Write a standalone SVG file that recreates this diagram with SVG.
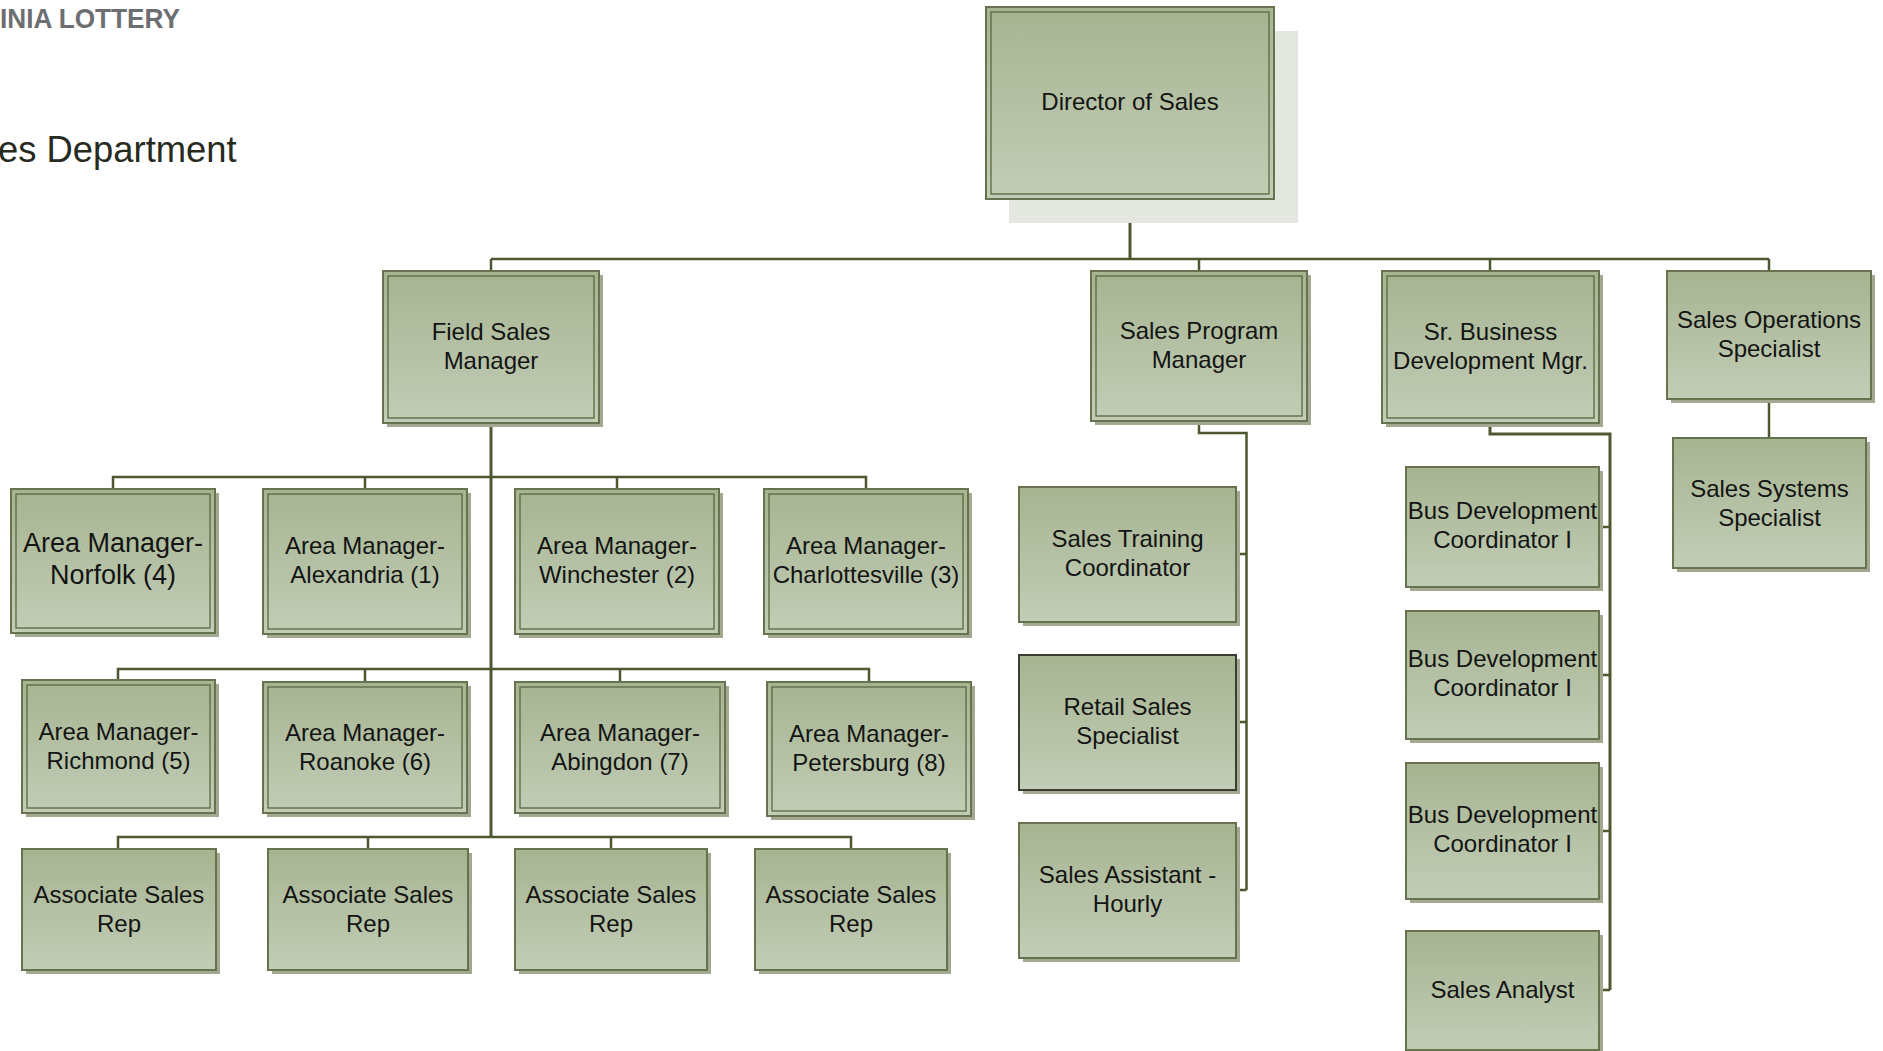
<svg xmlns="http://www.w3.org/2000/svg" width="1883" height="1051" viewBox="0 0 1883 1051">
  <defs>
    <linearGradient id="g" x1="0" y1="0" x2="0" y2="1">
      <stop offset="0" stop-color="#a6b491"/>
      <stop offset="1" stop-color="#c2cdb6"/>
    </linearGradient>
    <style>
      .box{fill:url(#g);stroke:#66734e;stroke-width:2}
      .dark{stroke:#3b3d33}
      .inner{fill:none;stroke:#5b6843;stroke-width:1.3}
      .sh{fill:#a3a991}
      .t{font-family:"Liberation Sans",Arial,sans-serif;font-size:24px;fill:#141414;text-anchor:middle}
      .big{font-size:27px}
      .c{fill:none;stroke:#4d5831;stroke-width:2.5}
      .cw{fill:none;stroke:#4d5831;stroke-width:3}
    </style>
  </defs>
  <rect width="1883" height="1051" fill="#ffffff"/>

  <g id="header">
    <text x="0" y="28" font-family="'Liberation Sans',Arial,sans-serif" font-size="28" font-weight="600" fill="#6d6e71" textLength="180" lengthAdjust="spacingAndGlyphs">INIA LOTTERY</text>
    <text x="-2" y="162" font-family="'Liberation Sans',Arial,sans-serif" font-size="36.4" fill="#272a1e">es Department</text>
  </g>

  <g id="connectors">
    <path class="cw" d="M1130,199 V259"/>
    <path class="c" d="M491,259 H1769"/>
    <path class="c" d="M491,259 V271 M1199,259 V271 M1490,259 V271 M1769,259 V271"/>
    <path class="cw" d="M491,423 V837"/>
    <path class="c" d="M113,489 V477 H866 V489 M365,477 V489 M617,477 V489"/>
    <path class="c" d="M118,681 V669 H869 V681 M365,669 V681 M620,669 V681"/>
    <path class="c" d="M118,849 V837 H851 V849 M368,837 V849 M611,837 V849"/>
    <path class="c" d="M1199,421 V433 H1246.5 V890 M1236,554 H1246.5 M1236,722 H1246.5 M1236,890 H1246.5"/>
    <path class="cw" d="M1490,423 V434 H1610 V990"/>
    <path class="c" d="M1599,527 H1610 M1599,675 H1610 M1599,831 H1610 M1599,990 H1610"/>
    <path class="c" d="M1769,399 V438"/>
  </g>

  <g id="director">
    <rect x="1009" y="31" width="289" height="192" fill="#e4e7df"/>
    <rect class="box" x="986" y="7" width="288" height="192"/>
    <rect class="inner" x="991" y="12" width="278" height="182"/>
    <text class="t" x="1130" y="110">Director of Sales</text>
  </g>

  <g id="field-sales-manager">
    <rect class="sh" x="387" y="275" width="216" height="152"/>
    <rect class="box" x="383" y="271" width="216" height="152"/>
    <rect class="inner" x="388" y="276" width="206" height="142"/>
    <text class="t" x="491" y="340">Field Sales<tspan x="491" dy="29">Manager</tspan></text>
  </g>

  <g id="sales-program-manager">
    <rect class="sh" x="1095" y="275" width="216" height="150"/>
    <rect class="box" x="1091" y="271" width="216" height="150"/>
    <rect class="inner" x="1096" y="276" width="206" height="140"/>
    <text class="t" x="1199" y="339">Sales Program<tspan x="1199" dy="29">Manager</tspan></text>
  </g>

  <g id="sr-business-development-mgr">
    <rect class="sh" x="1386" y="275" width="217" height="152"/>
    <rect class="box" x="1382" y="271" width="217" height="152"/>
    <rect class="inner" x="1387" y="276" width="207" height="142"/>
    <text class="t" x="1490.5" y="340">Sr. Business<tspan x="1490.5" dy="29">Development Mgr.</tspan></text>
  </g>

  <g id="sales-operations-specialist">
    <rect class="sh" x="1671" y="275" width="204" height="128"/>
    <rect class="box" x="1667" y="271" width="204" height="128"/>
    <text class="t" x="1769" y="328">Sales Operations<tspan x="1769" dy="29">Specialist</tspan></text>
  </g>

  <g id="sales-systems-specialist">
    <rect class="sh" x="1677" y="442" width="193" height="130"/>
    <rect class="box" x="1673" y="438" width="193" height="130"/>
    <text class="t" x="1769.5" y="497">Sales Systems<tspan x="1769.5" dy="29">Specialist</tspan></text>
  </g>

  <g id="am-norfolk">
    <rect class="sh" x="15" y="493" width="204" height="144"/>
    <rect class="box" x="11" y="489" width="204" height="144"/>
    <rect class="inner" x="16" y="494" width="194" height="134"/>
    <text class="t big" x="113" y="552">Area Manager-<tspan x="113" dy="32">Norfolk (4)</tspan></text>
  </g>
  <g id="am-alexandria">
    <rect class="sh" x="267" y="493" width="204" height="145"/>
    <rect class="box" x="263" y="489" width="204" height="145"/>
    <rect class="inner" x="268" y="494" width="194" height="135"/>
    <text class="t" x="365" y="554">Area Manager-<tspan x="365" dy="29">Alexandria (1)</tspan></text>
  </g>
  <g id="am-winchester">
    <rect class="sh" x="519" y="493" width="204" height="145"/>
    <rect class="box" x="515" y="489" width="204" height="145"/>
    <rect class="inner" x="520" y="494" width="194" height="135"/>
    <text class="t" x="617" y="554">Area Manager-<tspan x="617" dy="29">Winchester (2)</tspan></text>
  </g>
  <g id="am-charlottesville">
    <rect class="sh" x="768" y="493" width="204" height="145"/>
    <rect class="box" x="764" y="489" width="204" height="145"/>
    <rect class="inner" x="769" y="494" width="194" height="135"/>
    <text class="t" x="866" y="554">Area Manager-<tspan x="866" dy="29">Charlottesville (3)</tspan></text>
  </g>

  <g id="am-richmond">
    <rect class="sh" x="26" y="684" width="193" height="133"/>
    <rect class="box" x="22" y="680" width="193" height="133"/>
    <rect class="inner" x="27" y="685" width="183" height="123"/>
    <text class="t" x="118.5" y="740">Area Manager-<tspan x="118.5" dy="29">Richmond (5)</tspan></text>
  </g>
  <g id="am-roanoke">
    <rect class="sh" x="267" y="686" width="204" height="131"/>
    <rect class="box" x="263" y="682" width="204" height="131"/>
    <rect class="inner" x="268" y="687" width="194" height="121"/>
    <text class="t" x="365" y="741">Area Manager-<tspan x="365" dy="29">Roanoke (6)</tspan></text>
  </g>
  <g id="am-abingdon">
    <rect class="sh" x="519" y="686" width="210" height="131"/>
    <rect class="box" x="515" y="682" width="210" height="131"/>
    <rect class="inner" x="520" y="687" width="200" height="121"/>
    <text class="t" x="620" y="741">Area Manager-<tspan x="620" dy="29">Abingdon (7)</tspan></text>
  </g>
  <g id="am-petersburg">
    <rect class="sh" x="771" y="686" width="204" height="134"/>
    <rect class="box" x="767" y="682" width="204" height="134"/>
    <rect class="inner" x="772" y="687" width="194" height="124"/>
    <text class="t" x="869" y="742">Area Manager-<tspan x="869" dy="29">Petersburg (8)</tspan></text>
  </g>

  <g id="asr-1">
    <rect class="sh" x="26" y="853" width="194" height="121"/>
    <rect class="box" x="22" y="849" width="194" height="121"/>
    <text class="t" x="119" y="903">Associate Sales<tspan x="119" dy="29">Rep</tspan></text>
  </g>
  <g id="asr-2">
    <rect class="sh" x="272" y="853" width="200" height="121"/>
    <rect class="box" x="268" y="849" width="200" height="121"/>
    <text class="t" x="368" y="903">Associate Sales<tspan x="368" dy="29">Rep</tspan></text>
  </g>
  <g id="asr-3">
    <rect class="sh" x="519" y="853" width="192" height="121"/>
    <rect class="box" x="515" y="849" width="192" height="121"/>
    <text class="t" x="611" y="903">Associate Sales<tspan x="611" dy="29">Rep</tspan></text>
  </g>
  <g id="asr-4">
    <rect class="sh" x="759" y="853" width="192" height="121"/>
    <rect class="box" x="755" y="849" width="192" height="121"/>
    <text class="t" x="851" y="903">Associate Sales<tspan x="851" dy="29">Rep</tspan></text>
  </g>

  <g id="sales-training-coordinator">
    <rect class="sh" x="1023" y="491" width="217" height="135"/>
    <rect class="box" x="1019" y="487" width="217" height="135"/>
    <text class="t" x="1127.5" y="547">Sales Training<tspan x="1127.5" dy="29">Coordinator</tspan></text>
  </g>
  <g id="retail-sales-specialist">
    <rect class="sh" x="1023" y="659" width="217" height="135"/>
    <rect class="box dark" x="1019" y="655" width="217" height="135"/>
    <text class="t" x="1127.5" y="715">Retail Sales<tspan x="1127.5" dy="29">Specialist</tspan></text>
  </g>
  <g id="sales-assistant-hourly">
    <rect class="sh" x="1023" y="827" width="217" height="135"/>
    <rect class="box" x="1019" y="823" width="217" height="135"/>
    <text class="t" x="1127.5" y="883">Sales Assistant -<tspan x="1127.5" dy="29">Hourly</tspan></text>
  </g>

  <g id="bus-dev-coordinator-1">
    <rect class="sh" x="1410" y="471" width="193" height="120"/>
    <rect class="box" x="1406" y="467" width="193" height="120"/>
    <text class="t" x="1502.5" y="519">Bus Development<tspan x="1502.5" dy="29">Coordinator I</tspan></text>
  </g>
  <g id="bus-dev-coordinator-2">
    <rect class="sh" x="1410" y="615" width="193" height="128"/>
    <rect class="box" x="1406" y="611" width="193" height="128"/>
    <text class="t" x="1502.5" y="667">Bus Development<tspan x="1502.5" dy="29">Coordinator I</tspan></text>
  </g>
  <g id="bus-dev-coordinator-3">
    <rect class="sh" x="1410" y="767" width="193" height="136"/>
    <rect class="box" x="1406" y="763" width="193" height="136"/>
    <text class="t" x="1502.5" y="823">Bus Development<tspan x="1502.5" dy="29">Coordinator I</tspan></text>
  </g>
  <g id="sales-analyst">
    <rect class="sh" x="1410" y="935" width="193" height="120"/>
    <rect class="box" x="1406" y="931" width="193" height="119"/>
    <text class="t" x="1502.5" y="998">Sales Analyst</text>
  </g>
</svg>
